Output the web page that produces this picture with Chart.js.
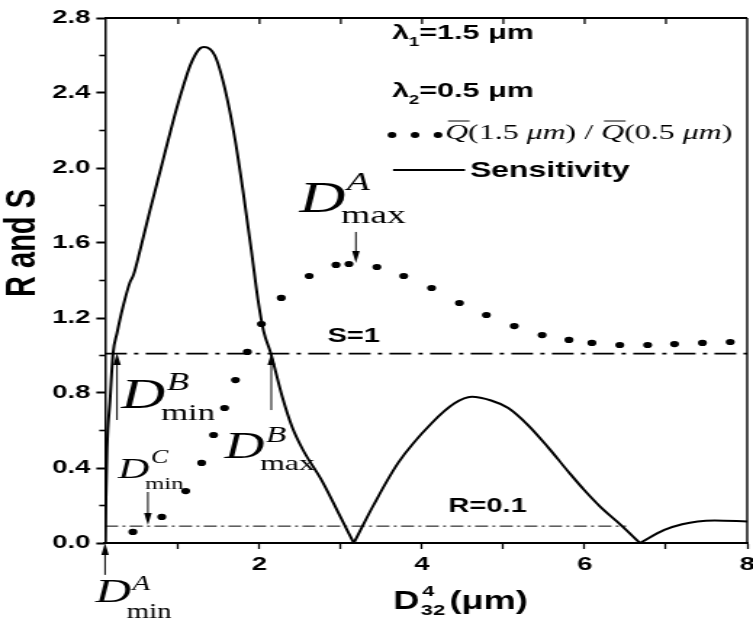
<!DOCTYPE html>
<html>
<head>
<meta charset="utf-8">
<script src="https://cdn.jsdelivr.net/npm/chart.js@4.4.1/dist/chart.umd.min.js"></script>
<style>
  html, body { margin: 0; padding: 0; background: #fff; overflow: hidden; }
  #wrap { width: 519px; height: 619px; transform: scaleX(1.4509); transform-origin: 0 0; }
</style>
</head>
<body>
<div id="wrap"><canvas id="c"></canvas></div>
<script>
// the original figure is stretched sideways, so the chart is drawn narrow and scaled in x
const SX = 753 / 519;

// Sensitivity, split at the two zeros so the cusps stay sharp
const sens1X = [0.10, 0.124, 0.161, 0.198, 0.247, 0.32, 0.406, 0.45, 0.53, 0.65, 0.80, 0.95, 1.05, 1.15, 1.25, 1.32, 1.45, 1.57, 1.70, 1.80, 1.90, 1.98, 2.05, 2.14, 2.28, 2.40, 2.53, 2.77, 3.00, 3.16];
const sens1Y = [0.00, 0.50, 0.76, 1.01, 1.12, 1.26, 1.39, 1.43, 1.56, 1.77, 2.02, 2.27, 2.42, 2.55, 2.63, 2.645, 2.60, 2.43, 2.15, 1.87, 1.56, 1.30, 1.13, 1.01, 0.78, 0.62, 0.50, 0.33, 0.135, 0.00];
const sens2X = [3.16, 3.22, 3.40, 3.71, 4.12, 4.40, 4.61, 4.85, 5.06, 5.30, 5.55, 5.80, 6.00, 6.20, 6.41, 6.68];
const sens2Y = [0.00, 0.05, 0.20, 0.43, 0.64, 0.745, 0.78, 0.76, 0.72, 0.63, 0.51, 0.38, 0.28, 0.19, 0.11, 0.00];
const sens3X = [6.68, 6.98, 7.20, 7.39, 7.60, 8.00];
const sens3Y = [0.00, 0.07, 0.10, 0.115, 0.12, 0.115];

// Q(1.5 um)/Q(0.5 um) ratio, plotted as dots
const qX = [0.443, 0.798, 1.092, 1.288, 1.435, 1.570, 1.704, 1.851, 2.023, 2.268, 2.611, 2.941, 3.101, 3.444, 3.774, 4.117, 4.460, 4.791, 5.134, 5.477, 5.807, 6.089, 6.432, 6.775, 7.106, 7.449, 7.791];
const qY = [0.059, 0.139, 0.277, 0.427, 0.576, 0.720, 0.869, 1.019, 1.168, 1.307, 1.424, 1.483, 1.488, 1.472, 1.424, 1.360, 1.280, 1.216, 1.157, 1.109, 1.083, 1.067, 1.056, 1.056, 1.061, 1.067, 1.072];

// reference levels
const sLineX = [0.1, 8];
const sLineY = [1.01, 1.01];
const rLineX = [0.1, 6.51];
const rLineY = [0.09, 0.09];

const xTicks = [1, 2, 3, 4, 5, 6, 7, 8];
const yTicks = [0, 0.2, 0.4, 0.6, 0.8, 1.0, 1.2, 1.4, 1.6, 1.8, 2.0, 2.2, 2.4, 2.6, 2.8];

const pts = (xs, ys) => xs.map((x, i) => ({ x: x, y: ys[i] }));

// annotation labels, positions in data units (left of D, baseline)
const dLabels = [
  { x: 2.49, y: 1.765, size: 44, sup: 'A', sub: 'max', supDy: -22, subDy: 11 },
  { x: 0.30, y: 0.72, size: 42, sup: 'B', sub: 'min', supDy: -18, subDy: 12 },
  { x: 1.57, y: 0.453, size: 38, sup: 'B', sub: 'max', supDy: -16, subDy: 12 },
  { x: 0.26, y: 0.347, size: 30, sup: 'C', sub: 'min', supDy: -15, subDy: 11 },
  { x: -0.02, y: -0.315, size: 34, sup: 'A', sub: 'min', supDy: -12, subDy: 16 }
];
// arrows: x, from y, to y (head at "to")
const arrows = [
  { x: 0.10, from: -0.17, to: 0.0 },
  { x: 0.247, from: 0.656, to: 1.013 },
  { x: 2.145, from: 0.709, to: 1.013 },
  { x: 0.627, from: 0.272, to: 0.096 },
  { x: 3.186, from: 1.659, to: 1.493 }
];

const SERIF = '"Liberation Serif", "Times New Roman", serif';
const SANS = '"Liberation Sans", Arial, sans-serif';

const extras = {
  id: 'extras',
  afterDraw(chart) {
    const ctx = chart.ctx;
    const xs = chart.scales.x, ys = chart.scales.y;
    const a = chart.chartArea;
    ctx.save();
    ctx.strokeStyle = '#000';
    ctx.fillStyle = '#000';

    // frame top and right
    ctx.lineWidth = 2;
    ctx.beginPath();
    ctx.moveTo(a.left, a.top); ctx.lineTo(a.right, a.top);
    ctx.stroke();
    ctx.lineWidth = 1.4;
    ctx.beginPath();
    ctx.moveTo(a.right, a.top); ctx.lineTo(a.right, a.bottom + 1);
    ctx.stroke();

    // inward ticks on the top edge
    ctx.lineWidth = 1.3;
    for (let v = 1; v <= 7; v++) {
      const px = xs.getPixelForValue(v);
      ctx.beginPath(); ctx.moveTo(px, a.top); ctx.lineTo(px, a.top + 6); ctx.stroke();
    }
    // short minor ticks on the left axis
    ctx.lineWidth = 1.6;
    yTicks.forEach(v => {
      if (Math.round(v * 10) % 4 !== 0) {
        const py = ys.getPixelForValue(v);
        ctx.beginPath(); ctx.moveTo(a.left, py); ctx.lineTo(a.left - 4, py); ctx.stroke();
      }
    });

    // y title
    ctx.save();
    ctx.translate(16, 243);
    ctx.rotate(-Math.PI / 2);
    ctx.font = 'bold 29px ' + SANS;
    ctx.textAlign = 'center';
    ctx.textBaseline = 'middle';
    ctx.fillText('R and S', 0, 0);
    ctx.restore();

    // x title  D^4_32 (um)
    ctx.textBaseline = 'alphabetic';
    ctx.textAlign = 'left';
    let tx = 271, ty = 609;
    ctx.font = 'bold 25px ' + SANS;
    ctx.fillText('D', tx, ty);
    tx += ctx.measureText('D').width + 1;
    ctx.font = 'bold 15px ' + SANS;
    ctx.fillText('4', tx + 1, ty - 13);
    ctx.fillText('32', tx, ty + 6);
    tx += ctx.measureText('32').width + 3;
    ctx.font = 'bold 25px ' + SANS;
    ctx.fillText('(\u03bcm)', tx, ty);

    // legend block
    const lx = 392 / SX;
    [['1', '=1.5 \u03bcm', 39], ['2', '=0.5 \u03bcm', 97]].forEach(r => {
      ctx.font = 'bold 21px ' + SANS;
      ctx.fillText('\u03bb', lx, r[2]);
      let w = ctx.measureText('\u03bb').width;
      ctx.font = 'bold 13px ' + SANS;
      ctx.fillText(r[0], lx + w, r[2] + 7);
      w += ctx.measureText(r[0]).width;
      ctx.font = 'bold 21px ' + SANS;
      ctx.fillText(r[1], lx + w, r[2]);
    });
    // dotted sample
    [392, 415, 438].forEach(p => {
      ctx.beginPath(); ctx.arc(p / SX, 135, 3, 0, Math.PI * 2); ctx.fill();
    });
    // Q-bar text
    let qx = 445 / SX; const qy = 139;
    const parts = [
      ['Q', 'italic', true], ['(1.5 ', '', false], ['\u03bcm', 'italic', false], [') / ', '', false],
      ['Q', 'italic', true], ['(0.5 ', '', false], ['\u03bcm', 'italic', false], [')', '', false]
    ];
    parts.forEach(p => {
      ctx.font = (p[1] ? p[1] + ' ' : '') + '22px ' + SERIF;
      const w = ctx.measureText(p[0]).width;
      ctx.fillText(p[0], qx, qy);
      if (p[2]) {
        ctx.lineWidth = 1;
        ctx.beginPath(); ctx.moveTo(qx + 2, qy - 18); ctx.lineTo(qx + w + 1, qy - 18); ctx.stroke();
      }
      qx += w;
    });
    // solid sample
    ctx.lineWidth = 2;
    ctx.beginPath(); ctx.moveTo(393 / SX, 170); ctx.lineTo(465 / SX, 170); ctx.stroke();
    ctx.font = 'bold 22px ' + SANS;
    ctx.textBaseline = 'middle';
    ctx.fillText('Sensitivity', 470 / SX, 171);

    // S=1 and R=0.1 labels
    ctx.textBaseline = 'alphabetic';
    ctx.font = 'bold 20px ' + SANS;
    ctx.fillText('S=1', xs.getPixelForValue(2.835), ys.getPixelForValue(1.072));
    ctx.fillText('R=0.1', xs.getPixelForValue(4.325), ys.getPixelForValue(0.165));

    // D labels
    dLabels.forEach(d => {
      const x = xs.getPixelForValue(d.x), y = ys.getPixelForValue(d.y);
      ctx.font = 'italic ' + d.size + 'px ' + SERIF;
      ctx.fillText('D', x, y);
      const w = ctx.measureText('D').width;
      ctx.font = 'italic ' + Math.round(d.size * 0.6) + 'px ' + SERIF;
      ctx.fillText(d.sup, x + w + 1, y + d.supDy);
      ctx.font = Math.round(d.size * 0.58) + 'px ' + SERIF;
      ctx.fillText(d.sub, x + w - 3, y + d.subDy);
    });

    // arrows
    ctx.lineWidth = 1;
    arrows.forEach(ar => {
      const x = xs.getPixelForValue(ar.x);
      const y1 = ys.getPixelForValue(ar.from), y2 = ys.getPixelForValue(ar.to);
      const dir = y2 < y1 ? 1 : -1;
      ctx.beginPath(); ctx.moveTo(x, y1); ctx.lineTo(x, y2 + dir * 8); ctx.stroke();
      ctx.beginPath();
      ctx.moveTo(x, y2);
      ctx.lineTo(x - 2.6, y2 + dir * 12);
      ctx.lineTo(x + 2.6, y2 + dir * 12);
      ctx.closePath(); ctx.fill();
    });
    ctx.restore();
  }
};

const sensStyle = {
  showLine: true, borderColor: '#000', borderWidth: 2, pointRadius: 0,
  cubicInterpolationMode: 'monotone', fill: false
};

new Chart(document.getElementById('c'), {
  type: 'scatter',
  data: {
    datasets: [
      Object.assign({ label: 'Sensitivity', data: pts(sens1X, sens1Y) }, sensStyle),
      Object.assign({ label: 'Sensitivity 2', data: pts(sens2X, sens2Y) }, sensStyle),
      Object.assign({ label: 'Sensitivity 3', data: pts(sens3X, sens3Y) }, sensStyle),
      { label: 'Q ratio', data: pts(qX, qY), showLine: false, pointRadius: 3.1,
        pointBackgroundColor: '#000', pointBorderWidth: 0 },
      { label: 'S=1', data: pts(sLineX, sLineY), showLine: true, borderColor: '#000',
        borderWidth: 1.8, borderDash: [15, 5, 3, 5], pointRadius: 0 },
      { label: 'R=0.1', data: pts(rLineX, rLineY), showLine: true, borderColor: '#000',
        borderWidth: 1, borderDash: [9, 3, 2, 3], pointRadius: 0 }
    ]
  },
  options: {
    responsive: true,
    maintainAspectRatio: false,
    animation: false,
    events: [],
    layout: { padding: { top: 18, right: 2, left: 0, bottom: 0 } },
    plugins: { legend: { display: false }, tooltip: { enabled: false } },
    scales: {
      x: {
        type: 'linear', min: 0.1, max: 8,
        afterBuildTicks: s => { s.ticks = xTicks.map(v => ({ value: v })); },
        afterFit: s => { s.height = 76; s.paddingLeft = 0; s.paddingRight = 0; },
        border: { display: true, color: '#000', width: 2 },
        grid: { drawOnChartArea: false, drawTicks: true, tickLength: 6, tickColor: '#000', tickWidth: 1.3 },
        ticks: {
          color: '#000', padding: 4, maxRotation: 0, autoSkip: false,
          font: { family: SANS, size: 19, weight: 'bold' },
          callback: v => (v % 2 === 0 ? String(v) : '')
        }
      },
      y: {
        type: 'linear', min: 0, max: 2.8,
        afterBuildTicks: s => { s.ticks = yTicks.map(v => ({ value: v })); },
        afterFit: s => { s.width = 72.4; },
        border: { display: true, color: '#000', width: 1.5 },
        grid: {
          drawOnChartArea: false, drawTicks: true, tickLength: 6, tickWidth: 2,
          tickColor: c => (Math.round(c.tick.value * 10) % 4 === 0 ? '#000' : 'rgba(0,0,0,0)')
        },
        ticks: {
          color: '#000', padding: 4, autoSkip: false,
          font: { family: SANS, size: 19, weight: 'bold' },
          callback: v => (Math.round(v * 10) % 4 === 0 ? v.toFixed(1) : '')
        }
      }
    }
  },
  plugins: [extras]
});
</script>
</body>
</html>
